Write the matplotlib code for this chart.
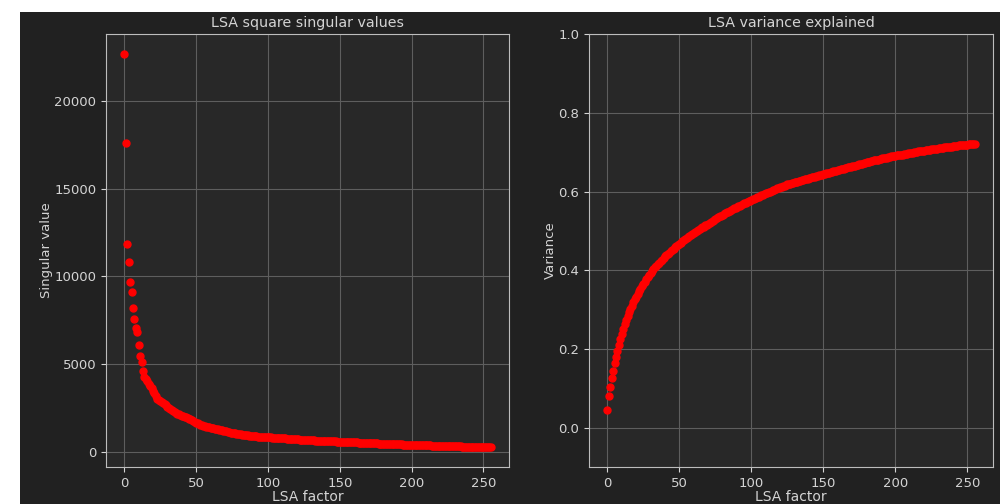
import numpy as np
import matplotlib
matplotlib.use("Agg")
import matplotlib.pyplot as plt
from matplotlib.patches import Rectangle

# square singular values (index 0..255)
sq_singular = [
    22680, 17570, 11840, 10810, 9670, 9120, 8190, 7580, 7050, 6820, 6100, 5470, 5130, 4630, 4290, 4150,
    4010, 3880, 3750, 3620, 3480, 3340, 3170, 3000, 2950, 2900, 2850, 2810, 2730, 2650, 2570, 2490,
    2420, 2360, 2300, 2250, 2200, 2170, 2140, 2100, 2070, 2030, 2000, 1975, 1940, 1900, 1860, 1810,
    1760, 1710, 1670, 1630, 1590, 1550, 1510, 1480, 1460, 1440, 1420, 1400, 1380, 1360, 1345, 1330,
    1310, 1290, 1270, 1250, 1230, 1205, 1180, 1160, 1140, 1120, 1100, 1085, 1070, 1055, 1040, 1025,
    1010, 995, 980, 970, 960, 950, 940, 930, 920, 910, 900, 890, 880, 872, 864, 856,
    850, 846, 842, 838, 834, 828, 822, 816, 810, 804, 798, 792, 786, 780, 774, 768,
    762, 756, 750, 744, 738, 732, 726, 720, 714, 708, 702, 696, 690, 684, 679, 674,
    669, 664, 659, 654, 649, 644, 639, 634, 630, 626, 622, 618, 614, 610, 606, 602,
    598, 595, 592, 590, 588, 585, 582, 578, 574, 570, 566, 562, 558, 554, 550, 546,
    542, 538, 534, 530, 526, 522, 518, 514, 510, 506, 502, 498, 494, 490, 486, 482,
    478, 474, 470, 466, 462, 458, 455, 452, 449, 446, 443, 440, 437, 434, 431, 428,
    425, 422, 419, 416, 413, 410, 408, 406, 404, 401, 398, 395, 392, 389, 386, 383,
    380, 377, 374, 371, 368, 365, 362, 359, 356, 353, 350, 347, 344, 342, 340, 338,
    336, 333, 330, 327, 324, 321, 318, 315, 312, 309, 306, 303, 300, 297, 294, 291,
    288, 286, 284, 282, 280, 278, 276, 274, 272, 270, 268, 266, 264, 262, 260, 258,
]

# cumulative variance explained
variance = [
    0.046, 0.080, 0.104, 0.126, 0.145, 0.163, 0.180, 0.195, 0.209, 0.224, 0.238, 0.251, 0.263, 0.274, 0.284, 0.293,
    0.302, 0.310, 0.318, 0.326, 0.333, 0.340, 0.347, 0.353, 0.359, 0.365, 0.371, 0.377, 0.382, 0.387, 0.392, 0.397,
    0.402, 0.407, 0.411, 0.415, 0.419, 0.423, 0.427, 0.431, 0.435, 0.439, 0.442, 0.445, 0.449, 0.452, 0.455, 0.458,
    0.461, 0.464, 0.467, 0.470, 0.473, 0.476, 0.479, 0.481, 0.484, 0.486, 0.489, 0.491, 0.494, 0.496, 0.499, 0.501,
    0.504, 0.506, 0.509, 0.511, 0.514, 0.516, 0.518, 0.521, 0.523, 0.525, 0.528, 0.530, 0.532, 0.535, 0.537, 0.539,
    0.541, 0.543, 0.545, 0.547, 0.549, 0.551, 0.553, 0.555, 0.557, 0.559, 0.561, 0.563, 0.564, 0.566, 0.568, 0.570,
    0.572, 0.573, 0.575, 0.577, 0.579, 0.581, 0.582, 0.584, 0.585, 0.587, 0.589, 0.590, 0.592, 0.593, 0.595, 0.597,
    0.598, 0.600, 0.601, 0.603, 0.604, 0.606, 0.608, 0.609, 0.611, 0.612, 0.614, 0.615, 0.617, 0.618, 0.619, 0.620,
    0.621, 0.622, 0.623, 0.624, 0.625, 0.626, 0.627, 0.629, 0.630, 0.631, 0.632, 0.633, 0.634, 0.635, 0.636, 0.637,
    0.638, 0.639, 0.640, 0.641, 0.642, 0.643, 0.644, 0.645, 0.646, 0.647, 0.648, 0.649, 0.650, 0.651, 0.652, 0.653,
    0.654, 0.655, 0.656, 0.657, 0.658, 0.659, 0.660, 0.661, 0.662, 0.663, 0.664, 0.665, 0.666, 0.667, 0.668, 0.669,
    0.670, 0.671, 0.672, 0.673, 0.674, 0.675, 0.676, 0.677, 0.678, 0.679, 0.679, 0.680, 0.681, 0.682, 0.683, 0.684,
    0.685, 0.685, 0.686, 0.687, 0.688, 0.689, 0.689, 0.690, 0.691, 0.692, 0.692, 0.693, 0.694, 0.694, 0.695, 0.696,
    0.696, 0.697, 0.698, 0.698, 0.699, 0.700, 0.700, 0.701, 0.702, 0.702, 0.703, 0.703, 0.704, 0.705, 0.705, 0.706,
    0.706, 0.707, 0.708, 0.708, 0.709, 0.709, 0.710, 0.710, 0.711, 0.711, 0.712, 0.712, 0.713, 0.713, 0.714, 0.714,
    0.715, 0.715, 0.716, 0.716, 0.717, 0.717, 0.718, 0.718, 0.718, 0.719, 0.719, 0.720, 0.720, 0.720, 0.721, 0.721,
]

assert len(sq_singular) == 256 and len(variance) == 256
factors = np.arange(len(sq_singular))

fig_bg = '#212121'
ax_bg = '#282828'
txt = '#d4d4d4'

fig = plt.figure(figsize=(10, 5.04), dpi=100)
fig.patch.set_facecolor('white')
# the notebook output is cropped a bit: white strip on top and left
fig.patches.append(Rectangle((0.02, 0), 0.98, 1 - 12 / 504, transform=fig.transFigure,
                             facecolor=fig_bg, edgecolor='none', zorder=-10))

ax1 = fig.add_axes([0.106, 0.0734, 0.403, 0.859])
ax2 = fig.add_axes([0.589, 0.0734, 0.404, 0.859])

ax1.plot(factors, sq_singular, 'o', color='red', markersize=5)
ax1.set_title("LSA square singular values", color=txt, fontsize=10.3, pad=5)
ax1.set_xlabel("LSA factor", color=txt, fontsize=10, labelpad=0)
ax1.set_ylabel("Singular value", color=txt, fontsize=9.5, labelpad=1)

ax2.plot(factors, variance, 'o', color='red', markersize=5)
ax2.set_ylim(-0.1, 1.0)
ax2.set_title("LSA variance explained", color=txt, fontsize=10.3, pad=5)
ax2.set_xlabel("LSA factor", color=txt, fontsize=10, labelpad=0)
ax2.set_ylabel("Variance", color=txt, fontsize=9.5, labelpad=1)

for ax in (ax1, ax2):
    ax.set_facecolor(ax_bg)
    ax.grid(True, color='#5e5e5e', linewidth=0.8)
    ax.set_axisbelow(True)
    ax.tick_params(colors=txt, labelsize=9.5)
    for s in ax.spines.values():
        s.set_color('#bdbdbd')
    ax.set_xticks([0, 50, 100, 150, 200, 250])

fig.savefig('out.png', dpi=100, facecolor=fig.get_facecolor())
